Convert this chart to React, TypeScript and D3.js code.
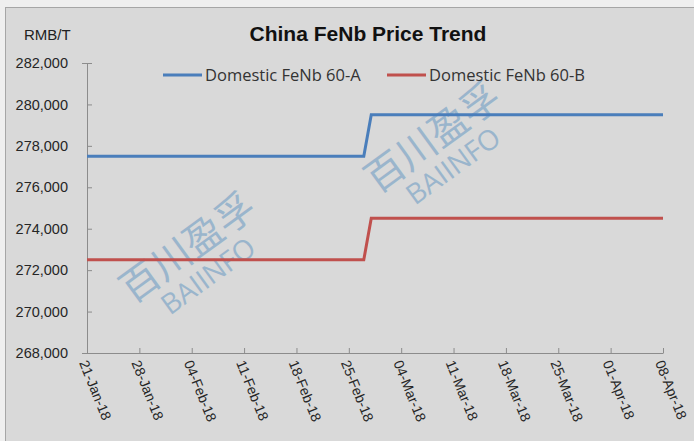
import React, { useRef, useEffect } from "react";
import * as d3 from "d3";

const dates = ["2018-01-21", "2018-02-27", "2018-02-28", "2018-04-08"];
const fenbA = [277500, 277500, 279500, 279500];
const fenbB = [272500, 272500, 274500, 274500];
const tickDates = ["2018-01-21", "2018-01-28", "2018-02-04", "2018-02-11", "2018-02-18", "2018-02-25",
  "2018-03-04", "2018-03-11", "2018-03-18", "2018-03-25", "2018-04-01", "2018-04-08"];
const yTicks = [268000, 270000, 272000, 274000, 276000, 278000, 280000, 282000];
const seriesNames = ["Domestic FeNb 60-A", "Domestic FeNb 60-B"];
const colors = ["#4a7ebb", "#c0504d"];

const W = 694, H = 441;

const App = () => {
  const ref = useRef(null);

  useEffect(() => {
    const svg = d3.select(ref.current);
    svg.selectAll("*").remove();
    const parse = d3.timeParse("%Y-%m-%d");
    const fmt = d3.timeFormat("%d-%b-%y");
    const font = "'Liberation Sans', Arial, sans-serif";

    svg.append("rect").attr("width", W).attr("height", H).attr("fill", "#efefef");
    svg.append("rect").attr("x", 5.5).attr("y", 7.5).attr("width", W).attr("height", H)
      .attr("fill", "#d9d9d9").attr("stroke", "#a6a6a6");

    const margin = { top: 63, left: 87, right: 31, bottom: 88 };
    const x = d3.scaleTime()
      .domain([parse(tickDates[0]), parse(tickDates[tickDates.length - 1])])
      .range([margin.left, W - margin.right]);
    const y = d3.scaleLinear().domain([268000, 282000]).range([H - margin.bottom, margin.top]);

    // watermarks
    const wm = [[198, 262], [443, 152]];
    wm.forEach(([cx, cy]) => {
      const g = svg.append("g").attr("transform", `translate(${cx},${cy}) rotate(-36)`)
        .attr("fill", "#86aac8").attr("opacity", 0.75)
        .style("font-family", "'Noto Sans CJK SC', sans-serif");
      g.append("text").attr("text-anchor", "middle").attr("y", -4)
        .style("font-size", "39px").text("百川盈孚");
      g.append("text").attr("text-anchor", "middle").attr("y", 27)
        .style("font-size", "28px").style("font-family", "'Open Sans', sans-serif").text("BAIINFO");
    });

    const yAxis = svg.append("g").attr("transform", `translate(${margin.left},0)`)
      .call(d3.axisLeft(y).tickValues(yTicks).tickFormat(d3.format(",")).tickSize(5).tickSizeOuter(5).tickPadding(14));
    yAxis.select(".domain").attr("stroke", "#8c8c8c");
    yAxis.selectAll(".tick line").attr("stroke", "#8c8c8c").attr("x2", 5);
    yAxis.selectAll("text").attr("fill", "#262626")
      .style("font-family", font).style("font-size", "14.5px");

    const xAxis = svg.append("g").attr("transform", `translate(0,${H - margin.bottom})`)
      .call(d3.axisBottom(x).tickValues(tickDates.map(parse)).tickFormat(fmt).tickSize(-5).tickSizeOuter(0));
    xAxis.select(".domain").attr("stroke", "#8c8c8c");
    xAxis.selectAll(".tick line").attr("stroke", "#8c8c8c");
    xAxis.selectAll("text").attr("fill", "#262626")
      .style("font-family", font).style("font-size", "14px")
      .attr("text-anchor", "start").attr("transform", "translate(-4,8) rotate(68)").attr("y", 0).attr("dy", "0.35em");

    const line = d3.line().x(d => x(d[0])).y(d => y(d[1]));
    [fenbA, fenbB].forEach((vals, i) => {
      svg.append("path").datum(dates.map((d, j) => [parse(d), vals[j]]))
        .attr("d", line).attr("fill", "none").attr("stroke", colors[i]).attr("stroke-width", 3);
    });

    svg.append("text").attr("x", 368).attr("y", 41).attr("text-anchor", "middle")
      .style("font-family", font).style("font-weight", "bold").style("font-size", "21px")
      .attr("fill", "#111").text("China FeNb Price Trend");
    svg.append("text").attr("x", 24).attr("y", 40)
      .style("font-family", font).style("font-size", "15px")
      .attr("fill", "#222").text("RMB/T");

    const legX = [163, 387];
    seriesNames.forEach((n, i) => {
      svg.append("line").attr("x1", legX[i]).attr("x2", legX[i] + 39).attr("y1", 75).attr("y2", 75)
        .attr("stroke", colors[i]).attr("stroke-width", 3);
      svg.append("text").attr("x", legX[i] + 42).attr("y", 81)
        .style("font-family", "'Open Sans', sans-serif").style("font-size", "16.5px")
        .attr("fill", "#333").text(n);
    });
  }, []);

  return <svg ref={ref} width={W} height={H} style={{ position: "absolute", left: 0, top: 0 }} />;
};

export default App;
